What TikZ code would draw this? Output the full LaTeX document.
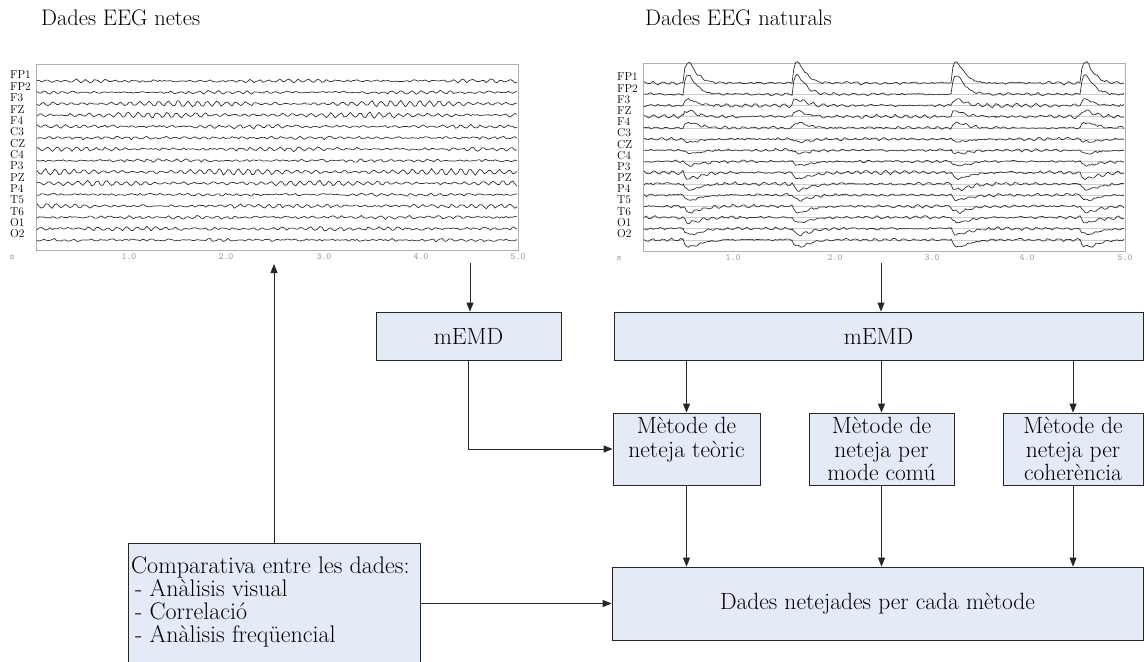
\documentclass[tikz,border=0pt]{standalone}
\usetikzlibrary{arrows.meta}

\definecolor{boxfill}{RGB}{228,235,246}
\definecolor{framegray}{RGB}{175,175,175}
\definecolor{tracecol}{RGB}{50,50,50}
\definecolor{gridgray}{RGB}{205,205,205}
\definecolor{tickgray}{RGB}{150,150,150}

% background activity of one channel (uses \al, \ph, \nz of the current channel)
\def\W{\al*(0.65+0.35*sin(1.69*\u+360*\ph))*sin(360*mod(0.1035*\u+\ph,1))+\nz*rand}
% blink-shaped deflection starting at local position #1
\newcommand{\B}[1]{(\bk)*(\u-#1)/\tc*exp(1-(\u-#1)/\tc)}

\begin{document}
\begin{tikzpicture}[x=1pt, y=-1pt,
  flowbox/.style={draw=black!85, fill=boxfill, line width=0.8pt, inner sep=0pt,
    font=\fontsize{23.5}{23.5}\selectfont, align=center},
  link/.style={draw=black!85, line width=0.8pt, -{Triangle[length=9pt,width=7pt]}},
  trace/.style={draw=tracecol, line width=0.7pt, line join=round, variable=\u},
  plotframe/.style={draw=framegray, line width=0.8pt, inner sep=0pt},
  chlabel/.style={font=\fontsize{11.5}{11.5}\selectfont, anchor=west, inner sep=0pt},
  ticklbl/.style={font=\ttfamily\fontsize{9.5}{9.5}\selectfont, text=tickgray, inner sep=0pt},
  title/.style={font=\fontsize{22.5}{22.5}\selectfont, anchor=base west, inner sep=0pt}
]
\pgfmathsetseed{4711}
\fill[white] (0,0) rectangle (1145,661);
\useasboundingbox (0,0) rectangle (1145,661);

% ---------- titles ----------
\node[title] (tclean) at (41,26) {Dades EEG netes};
\node[title] (tnat) at (645,26) {Dades EEG naturals};

% ---------- clean EEG recording ----------
\node[plotframe, minimum width=482, minimum height=186] (cleanplot) at (277,157) {};
\foreach \nm/\al/\ph/\nz [count=\i from 0] in {
  FP1/1.4/0.11/0.9, FP2/1.3/0.37/0.9, F3/3.0/0.52/0.7,
  FZ/2.5/0.71/0.8, F4/1.5/0.23/0.9, C3/1.3/0.88/0.9,
  CZ/1.7/0.05/0.9, C4/1.1/0.64/0.9, P3/3.0/0.29/0.7,
  PZ/2.3/0.93/0.8, P4/1.1/0.47/0.9, T5/1.9/0.16/0.9,
  T6/1.3/0.58/0.9, O1/1.7/0.81/0.9, O2/0.9/0.34/1.0}{
  \pgfmathsetmacro\yb{81+11.36*\i}
  \draw[trace] plot[domain=1:481, samples=220] (36+\u, {\yb-(\W)});
  \node[chlabel] (cl\i) at (10,\yb-6) {\nm};
}
\node[ticklbl] (cs) at (12,257) {s};
\foreach \t/\xx in {1/129, 2/226, 3/324, 4/421, 5/518}
  \node[ticklbl] (ct\t) at (\xx,257) {\t.0};

% ---------- natural EEG recording with blink artefacts ----------
\node[plotframe, minimum width=482, minimum height=188] (natplot) at (884,157) {};
\foreach \nm/\al/\ph/\nz/\bk/\tc [count=\i from 0] in {
  FP1/1.2/0.20/0.8/21/5, FP2/1.2/0.45/0.8/19/5, F3/1.8/0.60/0.8/6/5,
  FZ/1.6/0.10/0.8/6/5, F4/1.2/0.80/0.8/5/6, C3/1.2/0.30/0.8/-3/7,
  CZ/1.2/0.55/0.8/-3/7, C4/1.0/0.90/0.8/-4/7, P3/1.6/0.15/0.8/-6/7,
  PZ/1.4/0.70/0.8/-6/7, P4/1.0/0.40/0.8/-5/7, T5/1.4/0.85/0.8/-6/7,
  T6/1.2/0.05/0.8/-5/7, O1/1.2/0.50/0.8/-6/7, O2/1.0/0.25/0.8/-7/7}{
  \pgfmathsetmacro\yb{83+11.2*\i}
  \draw[gridgray, line width=0.6pt] (644,\yb) -- (1124,\yb);
  \draw[trace]
    plot[domain=1:40, samples=18] (643+\u, {\yb-(\W)})
    -- plot[domain=40:85, samples=26] (643+\u, {\yb-(\W)-\B{40}})
    -- plot[domain=85:149, samples=28] (643+\u, {\yb-(\W)})
    -- plot[domain=149:194, samples=26] (643+\u, {\yb-(\W)-\B{149}})
    -- plot[domain=194:308, samples=50] (643+\u, {\yb-(\W)})
    -- plot[domain=308:353, samples=26] (643+\u, {\yb-(\W)-\B{308}})
    -- plot[domain=353:437, samples=37] (643+\u, {\yb-(\W)})
    -- plot[domain=437:481, samples=26] (643+\u, {\yb-(\W)-\B{437}});
  \node[chlabel] (nl\i) at (617,\yb-6) {\nm};
}
\node[ticklbl] (ns) at (619,258) {s};
\foreach \t/\xx in {1/733, 2/835, 3/932, 4/1027, 5/1125}
  \node[ticklbl] (nt\t) at (\xx,258) {\t.0};

% ---------- processing blocks ----------
\node[flowbox, minimum width=185, minimum height=48] (memdA) at (468.5,336) {mEMD};
\node[flowbox, minimum width=529, minimum height=48] (memdB) at (878.5,336) {mEMD};
\node[flowbox, minimum width=147, minimum height=72] (m1) at (686.5,449) {Mètode de\\neteja teòric\\\mbox{}};
\node[flowbox, minimum width=145, minimum height=72] (m2) at (881.5,449) {Mètode de\\neteja per\\mode comú};
\node[flowbox, minimum width=140, minimum height=72] (m3) at (1073,449) {Mètode de\\neteja per\\coherència};
\node[flowbox, minimum width=531, minimum height=73] (dades) at (877.5,603.5) {Dades netejades per cada mètode};
\node[flowbox, minimum width=292, minimum height=150] (cmp) at (274,618) {};
\node[font=\fontsize{24}{22.7}\selectfont, align=left, anchor=north west, inner sep=0pt]
  (cmptext) at (131,557) {Comparativa entre les dades:\\
    \hspace{4pt}- Anàlisis visual\\ \hspace{4pt}- Correlació\\ \hspace{4pt}- Anàlisis freqüencial};

% ---------- connectors ----------
\coordinate (cleanFoot) at (470,263);
\coordinate (natFoot) at (881,263);
\coordinate (cleanIn) at (274,264);

\draw[link] (cleanFoot) -- (cleanFoot |- memdA.north);
\draw[link] (natFoot) -- (natFoot |- memdB.north);
\draw[link] (memdA.south) |- (m1.west);
\foreach \b in {m1,m2,m3}{
  \draw[link] (\b.north |- memdB.south) -- (\b.north);
  \draw[link] (\b.south) -- (\b.south |- dades.north);
}
\draw[link] (cmp.north) -- (cleanIn);
\draw[link] (cmp.east |- dades.west) -- (dades.west);
\end{tikzpicture}
\end{document}
